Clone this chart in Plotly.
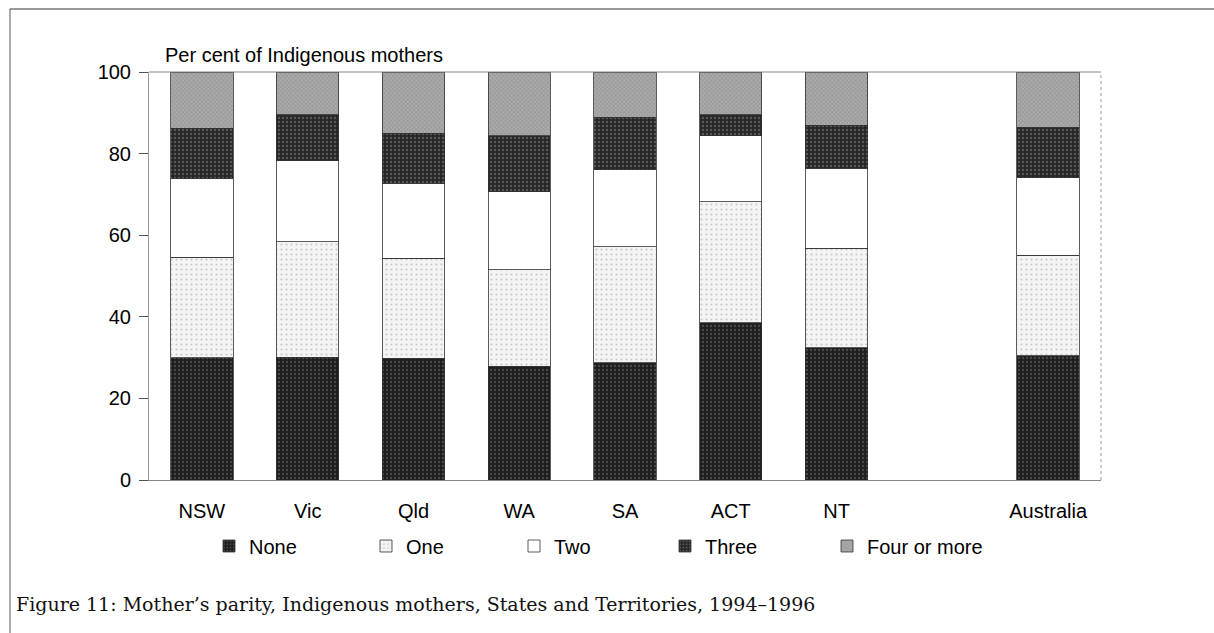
import plotly.graph_objects as go

categories = ["NSW", "Vic", "Qld", "WA", "SA", "ACT", "NT", " ", "Australia"]
none_vals = [30.0, 30.1, 29.9, 27.9, 28.8, 38.6, 32.4, None, 30.4]
one_vals = [24.6, 28.3, 24.4, 23.6, 28.4, 29.6, 24.4, None, 24.7]
two_vals = [19.2, 19.8, 18.4, 19.2, 18.8, 16.2, 19.6, None, 19.0]
three_vals = [12.4, 11.3, 12.3, 13.7, 12.9, 5.1, 10.6, None, 12.3]
four_vals = [13.8, 10.5, 15.0, 15.6, 11.1, 10.5, 13.0, None, 13.6]
series_names = ["None", "One", "Two", "Three", "Four or more"]
y_ticks = [0, 20, 40, 60, 80, 100]

styles = [
    dict(color="#1e1e1e", pattern=dict(shape=".", fgcolor="#777777", bgcolor="#1e1e1e", size=4, solidity=0.25)),
    dict(color="#f2f2f2", pattern=dict(shape=".", fgcolor="#9a9a9a", bgcolor="#f4f4f4", size=5, solidity=0.15)),
    dict(color="#ffffff"),
    dict(color="#262626", pattern=dict(shape=".", fgcolor="#8a8a8a", bgcolor="#262626", size=4, solidity=0.3)),
    dict(color="#a8a8a8", pattern=dict(shape="x", fgcolor="#e0e0e0", bgcolor="#9c9c9c", size=3, solidity=0.3)),
]

W, H = 1214, 633
L, R, T, B = 149, 113, 72, 153
pw, ph = W - L - R, H - T - B

def px(x):
    return (x - L) / pw

def py(y):
    return (H - B - y) / ph

legend_text_x = [250, 407, 555, 706, 868]
legend_ids = ["legend", "legend2", "legend3", "legend4", "legend5"]

fig = go.Figure()
for name, vals, st, lid in zip(series_names, [none_vals, one_vals, two_vals, three_vals, four_vals], styles, legend_ids):
    marker = dict(color=st["color"], line=dict(color="#333333", width=0.8))
    if "pattern" in st:
        marker["pattern"] = st["pattern"]
    fig.add_trace(go.Bar(x=categories, y=vals, name=name, marker=marker, width=0.59, legend=lid))

legend_layout = {}
for lid, tx in zip(legend_ids, legend_text_x):
    legend_layout[lid] = dict(orientation="h", x=px(tx - 41), y=py(546), xanchor="left", yanchor="middle",
                              font=dict(size=20, color="#000000"), bgcolor="rgba(0,0,0,0)",
                              itemwidth=30)

fig.update_layout(
    width=W, height=H,
    barmode="stack",
    paper_bgcolor="white", plot_bgcolor="white",
    margin=dict(l=L, r=R, t=T, b=B),
    font=dict(family="Liberation Sans, Arial, sans-serif", size=20, color="#000000"),
    showlegend=True,
    xaxis=dict(type="category", categoryorder="array", categoryarray=categories,
               showline=True, linecolor="#888888", linewidth=1, ticks="",
               ticklabelstandoff=13, showgrid=False, range=[-0.5, 8.5]),
    yaxis=dict(range=[0, 100], tickvals=y_ticks, showgrid=False, zeroline=False,
               showline=True, linecolor="#999999", linewidth=1, ticks="outside",
               ticklen=9, tickcolor="#555555", ticklabelstandoff=4),
    annotations=[
        dict(text="Per cent of Indigenous mothers", xref="paper", yref="paper",
             x=px(163), y=py(55), xanchor="left", yanchor="middle", showarrow=False,
             font=dict(size=20)),
        dict(text="Figure 11: Mother\u2019s parity, Indigenous mothers, States and Territories, 1994\u20131996",
             xref="paper", yref="paper", x=px(14), y=py(604), xanchor="left", yanchor="middle",
             showarrow=False, font=dict(family="DejaVu Serif, Liberation Serif, serif", size=19, color="#111111")),
    ],
    shapes=[
        dict(type="line", xref="paper", yref="paper", x0=0, x1=1, y0=1, y1=1,
             line=dict(color="#888888", width=1)),
        dict(type="line", xref="paper", yref="paper", x0=1, x1=1, y0=0, y1=1,
             line=dict(color="#999999", width=1, dash="dot")),
        dict(type="line", xref="paper", yref="paper", x0=px(10), x1=px(1214), y0=py(9), y1=py(9),
             line=dict(color="#333333", width=1.2)),
        dict(type="line", xref="paper", yref="paper", x0=px(10), x1=px(10), y0=py(9), y1=py(633),
             line=dict(color="#555555", width=1)),
    ],
    **legend_layout,
)

fig.write_html("out.html", config={"displayModeBar": False},
               post_script="document.body.style.margin='0';")
